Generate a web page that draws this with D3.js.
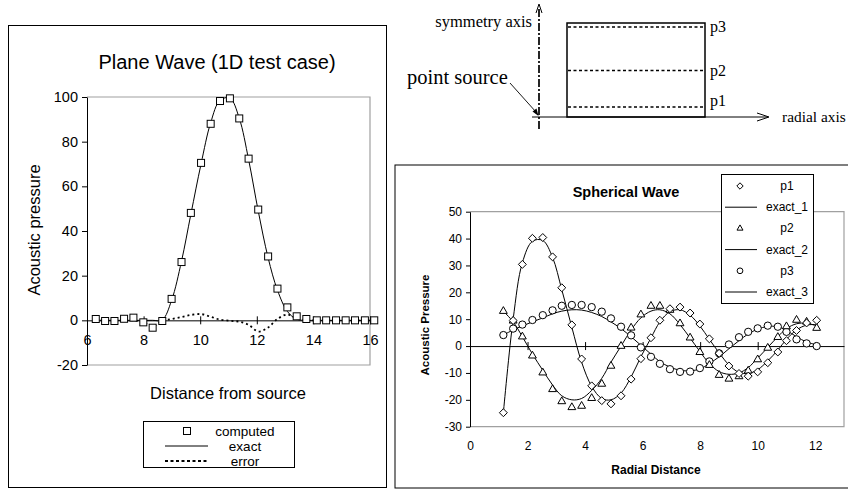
<!DOCTYPE html>
<html>
<head>
<meta charset="utf-8">
<script src="https://cdn.jsdelivr.net/npm/d3@7"></script>
<style>
  body { margin: 0; background: #fff; }
  svg { display: block; }
  text { font-family: "Liberation Sans", Arial, sans-serif; fill: #000; }
  .serif { font-family: "Liberation Serif", "Times New Roman", serif; }
</style>
</head>
<body>
<svg width="848" height="490"></svg>
<script>
// ---- plane wave (1D test case) ----
const planeX = [6.31, 6.64, 6.97, 7.31, 7.64, 7.99, 8.32, 8.66, 8.99, 9.34, 9.67, 10.03, 10.37, 10.70, 11.05,
  11.38, 11.71, 12.05, 12.40, 12.73, 13.08, 13.41, 13.75, 14.12, 14.45, 14.80, 15.14, 15.47, 15.82, 16.15];
const planeComputed = [0.6, -0.3, -0.3, 0.7, 1.2, -0.9, -3.3, -0.3, 9.6, 26.1, 48.1, 70.5, 88.0, 98.2, 99.4,
  90.4, 72.4, 49.6, 28.6, 14.2, 5.8, 1.8, 0.6, 0, 0, 0, 0, 0, 0, 0];
const planeExact = [0, 0, 0, 0, 0, 0, 0, 0.2, 9, 26.5, 47.5, 70, 88.5, 98.5, 99.5,
  90.5, 72, 49, 28, 13.5, 4, 0.5, 0, 0, 0, 0, 0, 0, 0, 0];
const planeError = [0, 0, 0, 0, 0, -0.9, -2.8, -0.3, 0.6, 1.5, 2.4, 2.8, 1.6, 0.3, -0.2,
  -0.6, -2, -5, -3.2, 0.6, 2.6, 0.8, 0.2, 0, 0, 0, 0, 0, 0, 0];
const planeXTicks = [6, 8, 10, 12, 14, 16];
const planeYTicks = [-20, 0, 20, 40, 60, 80, 100];
const planeLegend = ["computed", "exact", "error"];

// ---- spherical wave ----
const sphX = [1.16, 1.50, 1.82, 2.17, 2.53, 2.87, 3.19, 3.54, 3.88, 4.23, 4.58, 4.90, 5.25, 5.60, 5.94, 6.29, 6.60,
  6.95, 7.30, 7.65, 7.99, 8.32, 8.66, 9.00, 9.35, 9.67, 10.00, 10.35, 10.70, 11.00, 11.35, 11.70, 12.05];
const sphP1 = [-24.8, 9.5, 30.4, 40.1, 40.4, 33.2, 21.7, 7.9, -4.8, -14.8, -20.3, -21.5, -18.5, -12.3, -4.7, 3.1, 9.6,
  13.9, 14.5, 12.3, 8.2, 2.7, -2.7, -7.4, -10.2, -11.2, -9.6, -6.2, -2.2, 2, 5.8, 8.6, 9.6];
const sphExact1 = [-24.8, 10, 31, 39, 39.3, 33, 21, 7, -6, -15, -19.5, -20, -17.5, -11.5, -4, 3, 9,
  12.8, 13.5, 11.5, 7.5, 2.5, -2.5, -7, -9.8, -10.2, -8.8, -5.5, -1.5, 2.5, 6, 7.8, 8];
const sphP2 = [13.0, 9.4, 3.5, -3.6, -9.9, -16.1, -20.6, -22.8, -22.3, -19.4, -14.1, -7.4, 0, 6.8, 11.7, 14.9, 14.9,
  13.4, 8.4, 3.1, -2.3, -7.1, -10.8, -12.2, -11.3, -9.2, -5, -0.7, 3.3, 7.3, 9.7, 9.0, 6.7];
const sphExact2 = [13, 9, 3.5, -3, -9, -14.5, -18.5, -20, -19.5, -16.5, -12, -6, 0, 6, 10.5, 13, 13.5,
  12, 8, 3, -2, -6.5, -9.5, -10.5, -10, -8, -4.5, -0.5, 3.5, 6.5, 8.3, 8.5, 7.5];
const sphP3 = [4.1, 6.5, 8.0, 9.7, 11.5, 13.3, 15.0, 15.3, 15.3, 14.5, 12.8, 10.3, 7.2, 4.0, -0.5, -4.0, -6.6,
  -8.6, -9.6, -9.5, -8.2, -5.7, -2.7, 0.6, 3.3, 5.3, 6.6, 7.6, 7.2, 5.3, 2.5, 1.0, 0];
const sphExact3 = [4.1, 6, 7.5, 9, 10.5, 12, 13, 13.5, 13.4, 12.5, 11, 9, 6.5, 3.5, 0.3, -3, -5.8,
  -7.8, -9, -9.2, -8.5, -6.5, -4, -1, 2, 4.5, 6.3, 7.3, 7.2, 5.8, 3.5, 1.5, 0.5];
const sphXTicks = [0, 2, 4, 6, 8, 10, 12];
const sphYTicks = [-30, -20, -10, 0, 10, 20, 30, 40, 50];
const sphLegend = ["p1", "exact_1", "p2", "exact_2", "p3", "exact_3"];

// ---- geometry sketch ----
const probeLabels = ["p1", "p2", "p3"];

const svg = d3.select("svg");
const plain = d => String(d); // keep ASCII hyphen for negatives

// ================= left chart: Plane Wave =================
const left = svg.append("g");

left.append("rect")
  .attr("x", 8.5).attr("y", 25.5).attr("width", 378).attr("height", 462)
  .attr("fill", "none").attr("stroke", "#000").attr("stroke-width", 1);

const xP = d3.scaleLinear().domain([6, 16]).range([87, 370]);
const yP = d3.scaleLinear().domain([-20, 100]).range([365, 97]);

// plot area frame (grey)
left.append("path")
  .attr("d", `M${xP(6)},${yP(100)}H${xP(16)}V${yP(-20)}H${xP(6)}`)
  .attr("fill", "none").attr("stroke", "#a0a0a0").attr("stroke-width", 1.2);

const yAxisP = left.append("g")
  .attr("transform", `translate(${xP(6)},0)`)
  .call(d3.axisLeft(yP).tickValues(planeYTicks).tickFormat(plain).tickSize(5).tickPadding(4).tickSizeOuter(0));
yAxisP.selectAll("text").style("font-size", "14.5px");

const xAxisP = left.append("g")
  .attr("transform", `translate(0,${yP(0)})`)
  .call(d3.axisBottom(xP).tickValues(planeXTicks).tickFormat(plain).tickSize(4).tickSizeOuter(0));
xAxisP.selectAll(".tick line").attr("y1", -4);
xAxisP.selectAll(".tick text").attr("y", 14).style("font-size", "14.5px");
left.selectAll(".domain").attr("stroke", "#000");

left.append("text")
  .attr("x", 217).attr("y", 69).attr("text-anchor", "middle")
  .style("font-size", "20px").text("Plane Wave (1D test case)");
left.append("text")
  .attr("transform", `translate(40,230) rotate(-90)`)
  .attr("text-anchor", "middle").style("font-size", "16.5px").text("Acoustic pressure");
left.append("text")
  .attr("x", 228).attr("y", 399).attr("text-anchor", "middle")
  .style("font-size", "16.5px").text("Distance from source");

const linePlane = vals => d3.line()
  .x((d, i) => xP(planeX[i]))
  .y(d => yP(d))
  .curve(d3.curveCatmullRom.alpha(0.5))(vals);

left.append("path").attr("d", linePlane(planeError))
  .attr("fill", "none").attr("stroke", "#000").attr("stroke-width", 1.8)
  .attr("stroke-dasharray", "2,3");
left.append("path").attr("d", linePlane(planeExact))
  .attr("fill", "none").attr("stroke", "#000").attr("stroke-width", 1);

left.selectAll("rect.pt")
  .data(planeComputed)
  .join("rect")
  .attr("class", "pt")
  .attr("x", (d, i) => xP(planeX[i]) - 3.5)
  .attr("y", d => yP(d) - 3.5)
  .attr("width", 7).attr("height", 7)
  .attr("fill", "#fff").attr("stroke", "#000").attr("stroke-width", 1);

// legend
const legP = left.append("g");
legP.append("rect")
  .attr("x", 143.5).attr("y", 421.5).attr("width", 151).attr("height", 46)
  .attr("fill", "#fff").attr("stroke", "#000").attr("stroke-width", 1);
planeLegend.forEach((name, i) => {
  const cy = 431 + i * 15;
  if (i === 0) {
    legP.append("rect").attr("x", 183.5).attr("y", cy - 3.5).attr("width", 7).attr("height", 7)
      .attr("fill", "#fff").attr("stroke", "#000");
  } else {
    legP.append("line").attr("x1", 165).attr("x2", 208).attr("y1", cy).attr("y2", cy)
      .attr("stroke", "#000")
      .attr("stroke-width", i === 2 ? 1.8 : 1)
      .attr("stroke-dasharray", i === 2 ? "3,2.5" : null);
  }
  legP.append("text").attr("x", 245).attr("y", cy + 5).attr("text-anchor", "middle")
    .style("font-size", "13.5px").text(name);
});

// ================= top right: geometry sketch =================
const sk = svg.append("g");
const axisY = 117, symX = 539;

sk.append("line")
  .attr("x1", symX).attr("x2", symX).attr("y1", 129).attr("y2", 7)
  .attr("stroke", "#000").attr("stroke-width", 1.7).attr("stroke-dasharray", "8,2,2,2");
sk.append("path")
  .attr("d", `M${symX - 3},${13}L${symX},${4}L${symX + 3},${13}`)
  .attr("fill", "none").attr("stroke", "#000").attr("stroke-width", 1);

sk.append("line")
  .attr("x1", 532).attr("x2", 768).attr("y1", axisY).attr("y2", axisY)
  .attr("stroke", "#000").attr("stroke-width", 1);
sk.append("path")
  .attr("d", `M757,${axisY - 4}L769,${axisY}L757,${axisY + 4}`)
  .attr("fill", "none").attr("stroke", "#000").attr("stroke-width", 1);

sk.append("rect")
  .attr("x", 567).attr("y", 23).attr("width", 138).attr("height", axisY - 23)
  .attr("fill", "none").attr("stroke", "#000").attr("stroke-width", 1.5);

const probeY = [107, 70.5, 27];
probeLabels.forEach((p, i) => {
  sk.append("line")
    .attr("x1", 568).attr("x2", 704).attr("y1", probeY[i]).attr("y2", probeY[i])
    .attr("stroke", "#000").attr("stroke-width", 1.5).attr("stroke-dasharray", "3,2.5");
  sk.append("text").attr("class", "serif")
    .attr("x", 710).attr("y", probeY[i] + (i === 0 ? -1 : 5))
    .style("font-size", "16px").text(p);
});

sk.append("text").attr("class", "serif")
  .attr("x", 532).attr("y", 27).attr("text-anchor", "end")
  .style("font-size", "16.5px").text("symmetry axis");
sk.append("text").attr("class", "serif")
  .attr("x", 407).attr("y", 84)
  .style("font-size", "20.5px").text("point source");
sk.append("text").attr("class", "serif")
  .attr("x", 782).attr("y", 122)
  .style("font-size", "15.4px").text("radial axis");

sk.append("line")
  .attr("x1", 510).attr("y1", 83).attr("x2", 536).attr("y2", 112)
  .attr("stroke", "#000").attr("stroke-width", 0.9);
sk.append("path")
  .attr("d", "M532.5,111.5L538.5,116L536.5,108.5Z")
  .attr("fill", "#000");

// ================= bottom right: Spherical Wave =================
const right = svg.append("g");
right.append("rect")
  .attr("x", 395).attr("y", 165).attr("width", 460).attr("height", 323)
  .attr("fill", "none").attr("stroke", "#000").attr("stroke-width", 1);

const xS = d3.scaleLinear().domain([0, 13]).range([470, 844]);
const yS = d3.scaleLinear().domain([-30, 50]).range([426.7, 211.7]);

right.append("path")
  .attr("d", `M${xS(0)},${yS(50)}H${xS(13)}V${yS(-30)}H${xS(0)}`)
  .attr("fill", "none").attr("stroke", "#a0a0a0").attr("stroke-width", 1.2);

const yAxisS = right.append("g")
  .attr("transform", `translate(${xS(0)},0)`)
  .call(d3.axisLeft(yS).tickValues(sphYTicks).tickFormat(plain).tickSize(4).tickPadding(4).tickSizeOuter(0));
yAxisS.selectAll("text").style("font-size", "12px");

const xAxisS = right.append("g")
  .attr("transform", `translate(0,${yS(0)})`)
  .call(d3.axisBottom(xS).tickValues(sphXTicks).tickFormat(plain).tickSize(4).tickSizeOuter(0));
xAxisS.selectAll(".tick line").attr("y1", -4);
xAxisS.selectAll(".tick text").attr("y", yS(-30) - yS(0) + 15).style("font-size", "12px");
right.selectAll(".domain").attr("stroke", "#000");

right.append("text")
  .attr("x", 626).attr("y", 197).attr("text-anchor", "middle")
  .style("font-size", "14.5px").style("font-weight", "bold").text("Spherical Wave");
right.append("text")
  .attr("transform", `translate(429,325) rotate(-90)`)
  .attr("text-anchor", "middle").style("font-size", "11.5px").style("font-weight", "bold")
  .text("Acoustic Pressure");
right.append("text")
  .attr("x", 656).attr("y", 474).attr("text-anchor", "middle")
  .style("font-size", "12px").style("font-weight", "bold").text("Radial Distance");

const lineSph = vals => d3.line()
  .x((d, i) => xS(sphX[i]))
  .y(d => yS(d))
  .curve(d3.curveCatmullRom.alpha(0.5))(vals);

[sphExact1, sphExact2, sphExact3].forEach(vals => {
  right.append("path").attr("d", lineSph(vals))
    .attr("fill", "none").attr("stroke", "#000").attr("stroke-width", 1);
});

const diamond = d3.symbol().type(d3.symbolDiamond2).size(40);
const triangle = d3.symbol().type(d3.symbolTriangle2).size(44);
const circle = d3.symbol().type(d3.symbolCircle).size(42);

function drawMarkers(vals, gen, cls) {
  right.selectAll("path." + cls)
    .data(vals)
    .join("path")
    .attr("class", cls)
    .attr("transform", (d, i) => `translate(${xS(sphX[i])},${yS(d)})`)
    .attr("d", gen)
    .attr("fill", "#fff").attr("stroke", "#000").attr("stroke-width", 1);
}
drawMarkers(sphP3, circle, "m3");
drawMarkers(sphP2, triangle, "m2");
drawMarkers(sphP1, diamond, "m1");

// legend
const legS = right.append("g");
legS.append("rect")
  .attr("x", 721.5).attr("y", 174.5).attr("width", 92).attr("height", 129)
  .attr("fill", "#fff").attr("stroke", "#000").attr("stroke-width", 1);
const legGens = [diamond, null, triangle, null, circle, null];
sphLegend.forEach((name, i) => {
  const cy = 186 + i * 21.2;
  if (legGens[i]) {
    legS.append("path").attr("transform", `translate(740,${cy})`)
      .attr("d", legGens[i].size(26)())
      .attr("fill", "#fff").attr("stroke", "#000");
  } else {
    legS.append("line").attr("x1", 725).attr("x2", 757).attr("y1", cy).attr("y2", cy)
      .attr("stroke", "#000");
  }
  legS.append("text").attr("x", 787).attr("y", cy + 4).attr("text-anchor", "middle")
    .style("font-size", "12px").text(name);
});
</script>
</body>
</html>
